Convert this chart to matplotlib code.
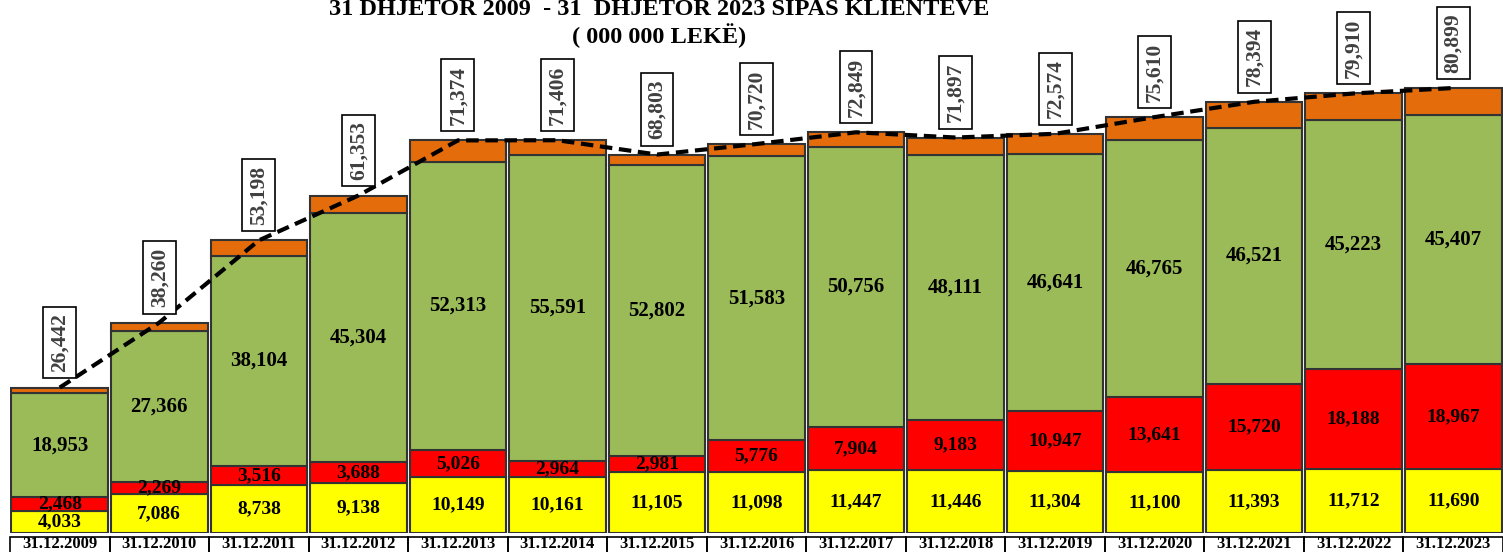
import matplotlib.pyplot as plt
from matplotlib.patches import Rectangle
import matplotlib.transforms as mtransforms

plt.rcParams['font.family'] = ['Liberation Serif', 'DejaVu Serif']

dates = ['31.12.2009', '31.12.2010', '31.12.2011', '31.12.2012', '31.12.2013',
         '31.12.2014', '31.12.2015', '31.12.2016', '31.12.2017', '31.12.2018',
         '31.12.2019', '31.12.2020', '31.12.2021', '31.12.2022', '31.12.2023']
yellow = [4033, 7086, 8738, 9138, 10149, 10161, 11105, 11098, 11447, 11446,
          11304, 11100, 11393, 11712, 11690]
red = [2468, 2269, 3516, 3688, 5026, 2964, 2981, 5776, 7904, 9183,
       10947, 13641, 15720, 18188, 18967]
green = [18953, 27366, 38104, 45304, 52313, 55591, 52802, 51583, 50756, 48111,
         46641, 46765, 46521, 45223, 45407]
totals = [26442, 38260, 53198, 61353, 71374, 71406, 68803, 70720, 72849, 71897,
          72574, 75610, 78394, 79910, 80899]
# top (orange) part = total minus the three labelled parts
orange = [t - a - b - c for t, a, b, c in zip(totals, yellow, red, green)]

fig = plt.figure(figsize=(15.03, 5.52), dpi=100)
ax = fig.add_axes([10 / 1503, 19 / 552, 1 - 10 / 1503, 533 / 552])

x = list(range(len(dates)))
w = 0.97
edge = '#333333'
bottom = [0] * len(x)
for vals, col in [(yellow, '#FFFF00'), (red, '#FF0000'), (green, '#9BBB59'), (orange, '#E46C0A')]:
    ax.bar(x, vals, w, bottom=bottom, color=col, edgecolor=edge, linewidth=1.5)
    bottom = [b + v for b, v in zip(bottom, vals)]

# segment labels
for i in x:
    ax.text(i, yellow[i] / 2, f'{yellow[i]:,}', ha='center', va='center',
            fontsize=14, fontweight='bold')
    ax.text(i, yellow[i] + red[i] / 2, f'{red[i]:,}', ha='center', va='center',
            fontsize=14, fontweight='bold')
    ax.text(i, yellow[i] + red[i] + green[i] / 2, f'{green[i]:,}', ha='center',
            va='center', fontsize=15, fontweight='bold')
    ax.text(i, totals[i] + 8200, f'{totals[i]:,}', ha='center', va='center',
            rotation=90, fontsize=15.5, fontweight='bold', color='#404040',
            bbox=dict(boxstyle='square,pad=0.3', fc='white', ec='black', lw=1.2))

ax.plot(x, totals, color='black', lw=3, linestyle=(0, (3, 1.6)))

# boxed date labels under the bars
trans = mtransforms.blended_transform_factory(ax.transData, ax.transAxes)
for i in x:
    ax.add_patch(Rectangle((i - 0.5, -0.2), 1, 0.192, transform=trans,
                           fill=False, ec='black', lw=1.2, clip_on=False))
    ax.text(i, -0.0205, dates[i], transform=trans, ha='center', va='center',
            fontsize=12, fontweight='bold')

ax.text(0.435, 0.982, '31 DHJETOR 2009  - 31  DHJETOR 2023 SIPAS KLIENTEVE',
        transform=ax.transAxes, ha='center', va='center', fontsize=17.5, fontweight='bold')
ax.text(0.435, 0.934, '( 000 000 LEKË)', transform=ax.transAxes, ha='center',
        va='center', fontsize=17.5, fontweight='bold')

ax.set_xlim(-0.5, 14.5)
ax.set_ylim(0, 96900)
ax.axis('off')

fig.savefig('out.png', dpi=100)
